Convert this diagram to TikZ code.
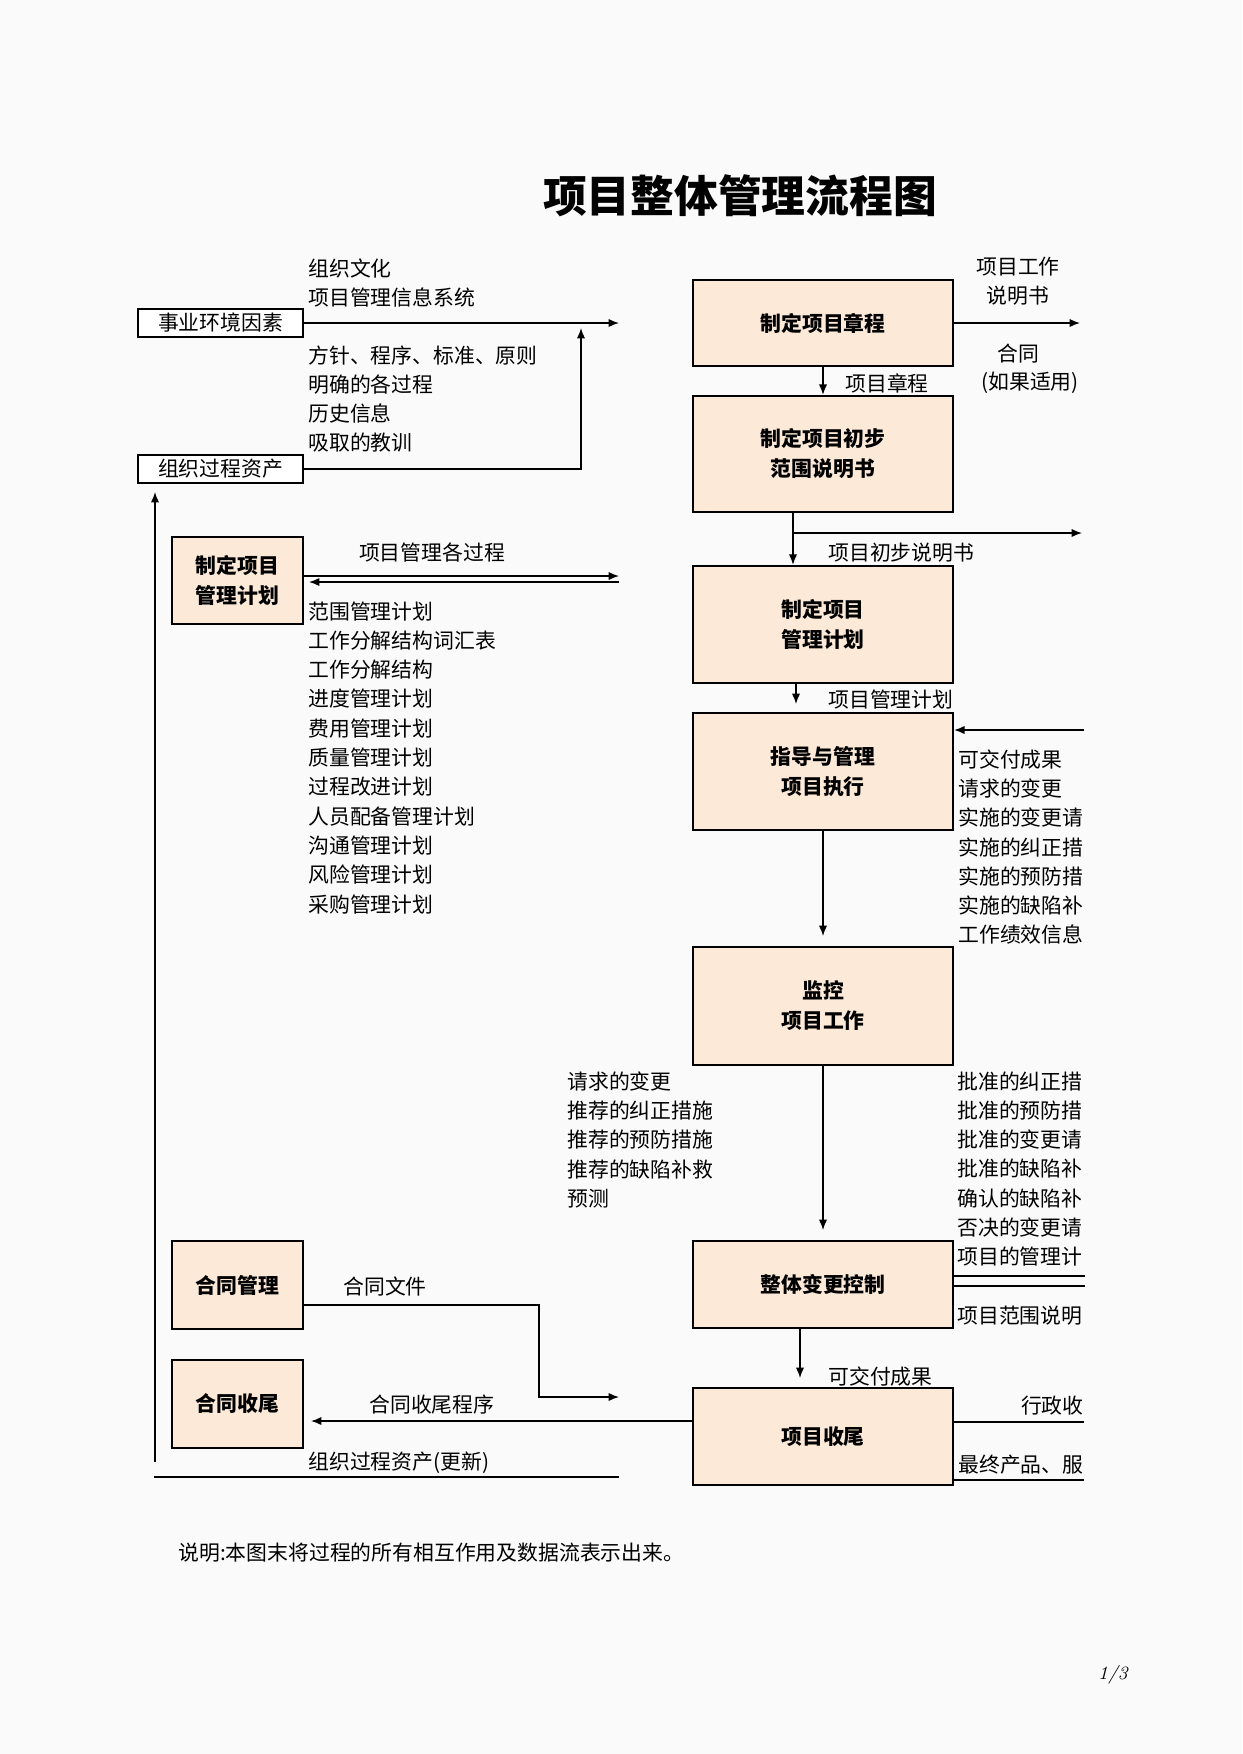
\documentclass[tikz,border=0pt]{standalone}
\usepackage{fontspec}
\usetikzlibrary{arrows.meta}
\newfontfamily\cjk{Noto Sans CJK SC}
\definecolor{boxfill}{RGB}{252,233,216}
\definecolor{pagebg}{RGB}{250,250,250}

\tikzset{
  proc/.style={draw, line width=1.1pt, fill=boxfill, inner sep=0pt, align=center,
    font=\cjk\bfseries\fontsize{10}{14.4}\selectfont},
  src/.style={draw, line width=1.1pt, fill=white, inner sep=0pt,
    font=\cjk\fontsize{10}{12}\selectfont},
  lbl/.style={inner sep=0pt, align=left, font=\cjk\fontsize{10}{14.07}\selectfont},
  flow/.style={line width=0.7pt, -{Latex[length=5pt,width=4pt]}},
  wire/.style={line width=0.7pt},
}

\begin{document}
\begin{tikzpicture}[x=0.48pt,y=-0.48pt]
\fill[pagebg] (0,0) rectangle (1242,1754);
\useasboundingbox (0,0) rectangle (1242,1754);

% Title
\node[lbl, font=\cjk\bfseries\fontsize{21}{24}\selectfont] (title) at (740,196) {项目整体管理流程图};

% Main process boxes
\node[proc, minimum width=124.8pt, minimum height=41.3pt] (charter) at (823,323) {制定项目章程};
\node[proc, minimum width=124.8pt, minimum height=55.7pt] (scope) at (823,454) {制定项目初步\\范围说明书};
\node[proc, minimum width=124.8pt, minimum height=56.2pt] (plan) at (823,624.5) {制定项目\\管理计划};
\node[proc, minimum width=124.8pt, minimum height=56.2pt] (execute) at (823,771.5) {指导与管理\\项目执行};
\node[proc, minimum width=124.8pt, minimum height=56.6pt] (monitor) at (823,1006) {监控\\项目工作};
\node[proc, minimum width=124.8pt, minimum height=41.8pt] (change) at (823,1284.5) {整体变更控制};
\node[proc, minimum width=124.8pt, minimum height=46.6pt] (closing) at (823,1436.5) {项目收尾};

% Side boxes
\node[src, minimum width=79.2pt, minimum height=13.4pt] (env) at (220.5,323) {事业环境因素};
\node[src, minimum width=79.2pt, minimum height=13.4pt] (assets) at (220.5,469) {组织过程资产};
\node[proc, minimum width=62.9pt, minimum height=41.8pt] (planL) at (237.5,580.5) {制定项目\\管理计划};
\node[proc, minimum width=62.9pt, minimum height=42.2pt] (ccMgmt) at (237.5,1285) {合同管理};
\node[proc, minimum width=62.9pt, minimum height=42.2pt] (ccClose) at (237.5,1404) {合同收尾};

% Free ends
\coordinate (envEnd) at (619,323);
\coordinate (assetsUp) at (581,328);
\coordinate (planOut) at (619,576);
\coordinate (planIn) at (309,582);
\coordinate (sowEnd) at (1080,323);
\coordinate (prelimX) at (793,533);
\coordinate (prelimEnd) at (1082,533);
\coordinate (pmpEnd) at (796,704);
\coordinate (delivIn) at (1084,730);
\coordinate (execEnd) at (823,936);
\coordinate (monEnd) at (823,1230);
\coordinate (cc1) at (1085,1276);
\coordinate (cc2) at (1085,1286);
\coordinate (delivEnd) at (800,1378);
\coordinate (admin) at (1084,1422);
\coordinate (final) at (1084,1480);
\coordinate (ccTip) at (311,1421);
\coordinate (docsBend) at (539,1305);
\coordinate (docsEnd) at (619,1397);
\coordinate (opaBottom) at (155,1462);
\coordinate (opaTop) at (155,492);
\coordinate (opaL) at (154,1477);
\coordinate (opaR) at (619,1477);

% Arrows
\draw[flow] (env.east) -- (envEnd);
\draw[flow] (assets.east) -| (assetsUp);
\draw[flow] (planL.east |- planOut) -- (planOut);
\draw[flow] (planOut |- planIn) -- (planIn);
\draw[flow] (charter) -- (scope);
\draw[flow] (charter.east) -- (sowEnd);
\draw[flow] (scope.south -| prelimX) -- (plan.north -| prelimX);
\draw[flow] (prelimX) -- (prelimEnd);
\draw[flow] (plan.south -| pmpEnd) -- (pmpEnd);
\draw[flow] (delivIn) -- (delivIn -| execute.east);
\draw[flow] (execute) -- (execEnd);
\draw[flow] (monitor) -- (monEnd);
\draw[wire] (cc1 -| change.east) -- (cc1);
\draw[wire] (cc2 -| change.east) -- (cc2);
\draw[flow] (change.south -| delivEnd) -- (delivEnd);
\draw[wire] (admin -| closing.east) -- (admin);
\draw[wire] (final -| closing.east) -- (final);
\draw[flow] (closing.west |- ccTip) -- (ccTip);
\draw[flow] (ccMgmt.east |- docsBend) -- (docsBend) |- (docsEnd);
\draw[flow] (opaBottom) -- (opaTop);
\draw[wire] (opaL) -- (opaR);

% Labels
\node[lbl, anchor=north west] (envTxt) at (308,258) {组织文化\\项目管理信息系统};
\node[lbl, anchor=north west] (opaTxt) at (308,345) {方针、程序、标准、原则\\明确的各过程\\历史信息\\吸取的教训};
\node[lbl, align=center] (sowTxt) at (1018,281) {项目工作\\说明书};
\node[lbl] (contractTxt) at (1018,354) {合同};
\node[lbl] (ifTxt) at (1030,383) {(如果适用)};
\node[lbl, anchor=west] (charterTxt) at (845,383) {项目章程};
\node[lbl, anchor=west] (prelimTxt) at (828,553) {项目初步说明书};
\node[lbl, anchor=west] (pmpTxt) at (828,700) {项目管理计划};
\node[lbl] (procTxt) at (432,553) {项目管理各过程};
\node[lbl, anchor=north west] (planList) at (308,601) {范围管理计划\\工作分解结构词汇表\\工作分解结构\\进度管理计划\\费用管理计划\\质量管理计划\\过程改进计划\\人员配备管理计划\\沟通管理计划\\风险管理计划\\采购管理计划};
\node[lbl, anchor=north west] (execList) at (958,749) {可交付成果\\请求的变更\\实施的变更请\\实施的纠正措\\实施的预防措\\实施的缺陷补\\工作绩效信息};
\node[lbl, anchor=north west] (monList) at (567,1071) {请求的变更\\推荐的纠正措施\\推荐的预防措施\\推荐的缺陷补救\\预测};
\node[lbl, anchor=north west] (chgList) at (957,1071) {批准的纠正措\\批准的预防措\\批准的变更请\\批准的缺陷补\\确认的缺陷补\\否决的变更请\\项目的管理计};
\node[lbl, anchor=west] (scopeTxt) at (957,1316) {项目范围说明};
\node[lbl, anchor=west] (docsTxt) at (343,1287) {合同文件};
\node[lbl, anchor=west] (delivTxt) at (828,1377) {可交付成果};
\node[lbl, anchor=west] (ccTxt) at (369,1405) {合同收尾程序};
\node[lbl, anchor=east] (adminTxt) at (1084,1406) {行政收};
\node[lbl, anchor=west] (finalTxt) at (958,1465) {最终产品、服};
\node[lbl, anchor=west] (opaNewTxt) at (308,1463) {组织过程资产(更新)};
\node[lbl, anchor=west] (note) at (178,1553) {说明:本图末将过程的所有相互作用及数据流表示出来。};
\node[inner sep=0pt, font=\rmfamily\itshape\fontsize{9}{10}\selectfont] (pageNo) at (1113,1675) {1/3};
\end{tikzpicture}
\end{document}
